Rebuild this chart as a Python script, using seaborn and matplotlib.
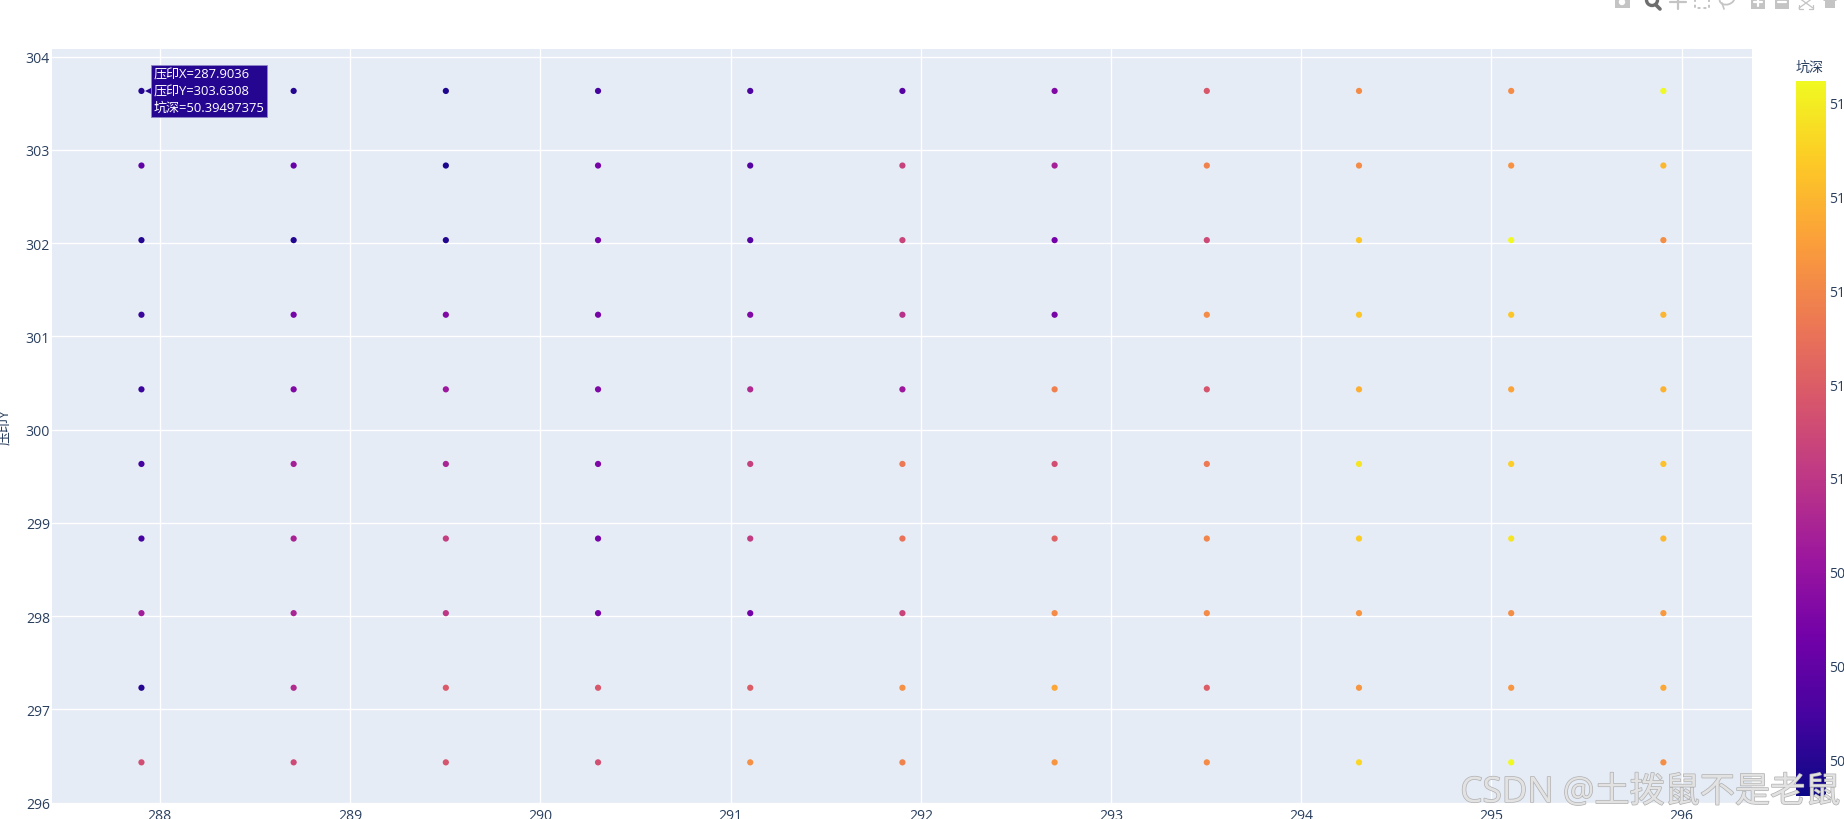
#!/usr/bin/env python3
"""Scatter of indent positions coloured by depth, with hover label and colour bar."""

import matplotlib
matplotlib.use("Agg")
import matplotlib.pyplot as plt
import matplotlib.patheffects as pe
import matplotlib.transforms as mtransforms
from matplotlib.cm import ScalarMappable
from matplotlib.colors import LinearSegmentedColormap, Normalize
from matplotlib.patches import Circle, Ellipse, Polygon, Rectangle
import pandas as pd
import seaborn as sns


# Data
indent_x = [287.9036, 288.7036, 289.5036, 290.3036, 291.1036, 291.9036,
            292.7036, 293.5036, 294.3036, 295.1036, 295.9036]
indent_y = [303.6308, 302.8308, 302.0308, 301.2308, 300.4308,
            299.6308, 298.8308, 298.0308, 297.2308, 296.4308]

depth_row0 = [50.39497375, 50.40, 50.38, 50.50, 50.52, 50.56, 50.72, 51.17, 51.42, 51.42, 51.84]
depth_row1 = [50.60, 50.62, 50.37, 50.68, 50.55, 51.06, 50.88, 51.38, 51.42, 51.45, 51.60]
depth_row2 = [50.40, 50.39, 50.39, 50.68, 50.55, 51.07, 50.67, 51.10, 51.66, 51.84, 51.43]
depth_row3 = [50.46, 50.68, 50.72, 50.68, 50.72, 50.97, 50.68, 51.42, 51.66, 51.66, 51.59]
depth_row4 = [50.46, 50.72, 50.83, 50.72, 50.93, 50.83, 51.37, 51.16, 51.57, 51.52, 51.58]
depth_row5 = [50.50, 50.88, 50.90, 50.72, 51.05, 51.33, 51.12, 51.34, 51.77, 51.69, 51.64]
depth_row6 = [50.50, 50.89, 51.04, 50.68, 51.03, 51.30, 51.22, 51.39, 51.68, 51.77, 51.60]
depth_row7 = [50.86, 50.90, 51.00, 50.68, 50.67, 51.07, 51.42, 51.42, 51.46, 51.43, 51.48]
depth_row8 = [50.40, 50.94, 51.18, 51.17, 51.20, 51.44, 51.53, 51.20, 51.46, 51.46, 51.54]
depth_row9 = [51.12, 51.10, 51.15, 51.13, 51.44, 51.38, 51.46, 51.42, 51.72, 51.84, 51.43]
depth_rows = [depth_row0, depth_row1, depth_row2, depth_row3, depth_row4,
              depth_row5, depth_row6, depth_row7, depth_row8, depth_row9]

x_ticks = [288, 289, 290, 291, 292, 293, 294, 295, 296]
y_ticks = [296, 297, 298, 299, 300, 301, 302, 303, 304]
cbar_ticks = [50.4, 50.6, 50.8, 51.0, 51.2, 51.4, 51.6, 51.8]
cbar_labels = ["50", "50", "50", "51", "51", "51", "51", "51"]  # cut off at the image edge
depth_min, depth_max = 50.323, 51.845

plasma_colors = ["#0d0887", "#46039f", "#7201a8", "#9c179e", "#bd3786",
                 "#d8576b", "#ed7953", "#fb9f3a", "#fdca26", "#f0f921"]

W, H = 1844, 820
TEXT = "#2a3f5f"
FS = 10.1  # 14 px at dpi 100

sns.set_theme(style="white", rc={"axes.facecolor": "#E5ECF6"})
plt.rcParams["font.family"] = ["Open Sans", "Noto Sans CJK SC", "DejaVu Sans"]


def px_axes(fig, left, top, right, bottom):
    return fig.add_axes([left / W, 1 - bottom / H, (right - left) / W, (bottom - top) / H])


def draw_modebar(fig):
    """Plotly's toolbar, cut off by the top of the screenshot."""
    bar = fig.add_axes([0, 0, 1, 1], facecolor="none", zorder=5)
    bar.set_xlim(0, W)
    bar.set_ylim(H, 0)
    bar.axis("off")
    grey, dark = "#c4c4c4", "#6e6e6e"
    # camera
    bar.add_patch(Rectangle((1615, -2), 15, 11, color=grey, lw=0))
    bar.add_patch(Circle((1622, 3), 3.2, color="white", lw=0))
    # zoom (active)
    bar.add_patch(Circle((1652, 1), 5.5, fill=False, ec=dark, lw=2.4))
    bar.plot([1656, 1660], [6, 10], color=dark, lw=2.6)
    # pan
    bar.plot([1670, 1686], [3, 3], color=grey, lw=1.6)
    bar.plot([1678, 1678], [-3, 10], color=grey, lw=1.6)
    # box select
    bar.add_patch(Rectangle((1695, -4), 14, 13, fill=False, ec=grey, lw=1.4, ls=(0, (1.5, 1.5))))
    # lasso
    bar.add_patch(Ellipse((1727, 0), 15, 11, angle=-15, fill=False, ec=grey, lw=1.3))
    bar.plot([1722, 1724], [4, 10], color=grey, lw=1.2)
    # zoom in, zoom out
    bar.add_patch(Rectangle((1751, -4), 14, 14, color=grey, lw=0))
    bar.plot([1754, 1762], [3, 3], color="white", lw=1.6)
    bar.plot([1758, 1758], [-1, 7], color="white", lw=1.6)
    bar.add_patch(Rectangle((1775, -4), 14, 14, color=grey, lw=0))
    bar.plot([1778, 1786], [3, 3], color="white", lw=1.6)
    # autoscale
    bar.plot([1799, 1813], [-1, 9], color=grey, lw=0.9)
    bar.plot([1813, 1799], [-1, 9], color=grey, lw=0.9)
    bar.plot([1799, 1799, 1803], [6, 10, 10], color=grey, lw=0.9)
    bar.plot([1809, 1813, 1813], [10, 10, 6], color=grey, lw=0.9)
    # home
    bar.add_patch(Polygon([(1823, 2), (1830, -5), (1837, 2)], color=grey, lw=0))
    bar.add_patch(Rectangle((1825, 2), 10, 7, color=grey, lw=0))


def main():
    df = pd.DataFrame(
        [(x, y, d) for y, row in zip(indent_y, depth_rows) for x, d in zip(indent_x, row)],
        columns=["压印X", "压印Y", "坑深"],
    )

    cmap = LinearSegmentedColormap.from_list("plotly_plasma", plasma_colors)
    norm = Normalize(depth_min, depth_max)

    fig = plt.figure(figsize=(W / 100, H / 100), dpi=100, facecolor="white")
    ax = px_axes(fig, 52, 50, 1752, 804.5)

    sns.scatterplot(data=df, x="压印X", y="压印Y", hue="坑深", hue_norm=norm,
                    palette=cmap, s=20, linewidth=0, legend=False, ax=ax, zorder=3)

    ax.set_xlim(287.4334, 296.3694)
    ax.set_ylim(295.9895, 304.0805)
    ax.set_xticks(x_ticks)
    ax.set_yticks(y_ticks)
    ax.grid(True, color="white", linewidth=1.0)
    ax.set_axisbelow(True)
    sns.despine(ax=ax, left=True, bottom=True)
    ax.tick_params(axis="x", length=0, pad=3, labelsize=FS, labelcolor=TEXT)
    ax.tick_params(axis="y", length=0, pad=1.5, labelsize=FS, labelcolor=TEXT)
    ax.set_xlabel("")
    ax.set_ylabel("压印Y", fontsize=FS, color=TEXT)
    ax.yaxis.set_label_coords(-39 / 1700, 0.5)

    # Hover label on the first point
    hover_color = cmap(norm(depth_row0[0]))
    tail = mtransforms.offset_copy(ax.transData, fig=fig, x=9, y=0, units="dots")
    ax.plot([indent_x[0]], [indent_y[0]], marker="<", ms=7, color=hover_color,
            mew=0, transform=tail, zorder=4)
    ax.annotate(
        f"压印X={indent_x[0]}\n压印Y={indent_y[0]}\n坑深={depth_row0[0]}",
        xy=(indent_x[0], indent_y[0]), xytext=(8.7, 0), textcoords="offset points",
        ha="left", va="center", fontsize=9.4, color="white", linespacing=1.37, zorder=5,
        bbox=dict(boxstyle="square,pad=0.2", fc=hover_color, ec="#8f87c8", lw=0.6),
    )

    # Colour bar
    cax = px_axes(fig, 1796, 82, 1826, 797)
    cbar = fig.colorbar(ScalarMappable(norm=norm, cmap=cmap), cax=cax)
    cbar.outline.set_visible(False)
    cbar.set_ticks(cbar_ticks, labels=cbar_labels)
    cbar.ax.tick_params(length=0, pad=2, labelsize=FS, labelcolor=TEXT)
    cax.set_facecolor("white")
    fig.text(1796 / W, 1 - 68 / H, "坑深", fontsize=FS, color=TEXT, ha="left", va="center")

    draw_modebar(fig)

    # Site watermark
    fig.text(1840 / W, 1 - 794 / H, "CSDN @土拨鼠不是老鼠", fontsize=25.3, color="#e2e2e2",
             ha="right", va="center", zorder=10,
             path_effects=[pe.withStroke(linewidth=1.0, foreground="#b0b0b0")])

    fig.savefig("out.png", dpi=100)
    plt.close(fig)


if __name__ == "__main__":
    main()
